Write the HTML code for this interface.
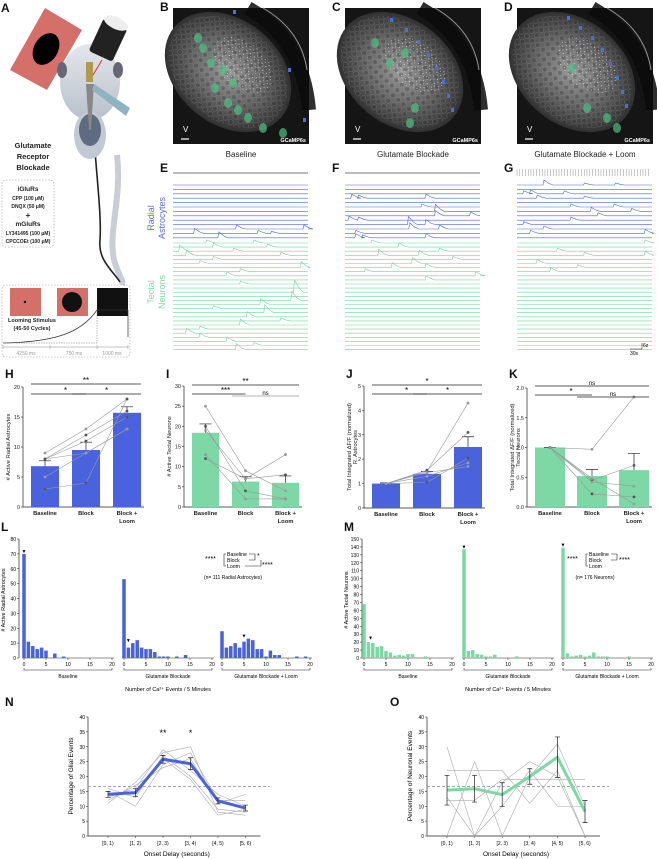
<!DOCTYPE html>
<html><head><meta charset="utf-8"><style>
html,body{margin:0;padding:0;background:#fff;}
svg{display:block;font-family:"Liberation Sans",sans-serif;}
.pl{font-weight:bold;font-size:12px;fill:#111}
.tk{font-size:5.5px;fill:#222}
.ax{font-size:5.8px;fill:#222}
</style></head><body>
<svg id="fig" width="657" height="859" viewBox="0 0 657 859">
<defs>
<radialGradient id="mic" cx="50%" cy="50%" r="55%"><stop offset="0" stop-color="#9a9a9a"/><stop offset="0.5" stop-color="#666"/><stop offset="1" stop-color="#252525"/></radialGradient>
<pattern id="cells" width="7" height="7" patternUnits="userSpaceOnUse"><circle cx="3.5" cy="3.5" r="2.6" fill="#333" stroke="#bbb" stroke-width="0.6"/></pattern>
<pattern id="speck" width="5" height="5" patternUnits="userSpaceOnUse"><rect x="1" y="1" width="1" height="1" fill="#eee"/><rect x="3" y="3" width="1" height="1" fill="#ccc"/></pattern>
<linearGradient id="fish" x1="0" y1="0" x2="0" y2="1"><stop offset="0" stop-color="#e4e7ec"/><stop offset="1" stop-color="#b9c0ca"/></linearGradient>
</defs>
<g>
<text class="pl" x="1" y="12">A</text>
<polygon points="10,70 45,8 82,30 47,90" fill="#d46f6a"/>
<ellipse cx="46" cy="49" rx="12" ry="17" transform="rotate(30 46 49)" fill="#000"/>
<path d="M117,155 C122,200 108,230 114,260 C118,275 124,280 122,285" stroke="#c9ced6" stroke-width="6" fill="none"/>
<path d="M92,100 C94,160 102,210 100,240 C98,260 112,270 120,282" stroke="#222" stroke-width="1.6" fill="none"/>
<ellipse cx="90" cy="82" rx="30" ry="38" fill="url(#fish)"/>
<ellipse cx="90" cy="135" rx="16" ry="24" fill="#c3c9d2"/>
<ellipse cx="90" cy="130" rx="11" ry="16" fill="#5e6b80"/>
<ellipse cx="62" cy="70" rx="5" ry="8" fill="#667"/>
<ellipse cx="118" cy="70" rx="5" ry="8" fill="#667"/>
<rect x="86" y="62" width="7" height="20" fill="#b09a50"/>
<polygon points="86,84 94,84 91,130 89,130" fill="#888"/>
<polygon points="94,84 130,108 126,116 92,90" fill="#8fb3c0"/>
<line x1="93" y1="75" x2="102" y2="60" stroke="#e03030" stroke-width="1"/>
<rect x="95" y="22" width="26" height="36" rx="3" transform="rotate(25 108 40)" fill="#222"/>
<ellipse cx="116" cy="23" rx="13" ry="6" transform="rotate(25 116 23)" fill="#eee"/>
<text x="33" y="148" text-anchor="middle" font-size="7.5" font-weight="bold" fill="#222">Glutamate</text>
<text x="33" y="159" text-anchor="middle" font-size="7.5" font-weight="bold" fill="#222">Receptor</text>
<text x="33" y="170" text-anchor="middle" font-size="7.5" font-weight="bold" fill="#222">Blockade</text>
<rect x="2" y="180" width="52" height="67" rx="4" fill="none" stroke="#999" stroke-dasharray="1.5,1.5" stroke-width="0.6"/>
<g font-size="5" text-anchor="middle" fill="#222" font-weight="bold">
<text x="28" y="191" font-size="6.5">iGluRs</text>
<text x="28" y="200">CPP (100 μM)</text>
<text x="28" y="208">DNQX (50 μM)</text>
<text x="28" y="218" font-size="8">+</text>
<text x="28" y="226" font-size="6.5">mGluRs</text>
<text x="28" y="235">LY341495 (100 μM)</text>
<text x="28" y="243">CPCCOEt (100 μM)</text>
</g>
<rect x="2" y="285" width="128" height="72" rx="4" fill="none" stroke="#999" stroke-dasharray="1.5,1.5" stroke-width="0.6"/>
<rect x="10" y="288" width="31" height="28" fill="#d46f6a"/><circle cx="25" cy="302" r="1.2" fill="#000"/>
<rect x="57" y="288" width="31" height="28" fill="#d46f6a"/><circle cx="72" cy="302" r="10" fill="#111"/>
<rect x="97" y="288" width="31" height="28" fill="#111"/>
<text x="32" y="322" text-anchor="middle" font-size="5.5" font-weight="bold" fill="#222">Looming Stimulus</text>
<text x="32" y="330" text-anchor="middle" font-size="5.5" font-weight="bold" fill="#222">(45-50 Cycles)</text>
<path d="M3,343 C50,342 80,335 97,310 L128,310 L128,337" stroke="#333" stroke-width="0.7" fill="none"/>
<path d="M97,310 L97,343 L3,343" stroke="#777" stroke-width="0.5" stroke-dasharray="1.5,1" fill="none"/>
<line x1="3" y1="347" x2="128" y2="347" stroke="#888" stroke-width="0.5"/>
<g stroke="#888" stroke-width="0.5"><line x1="3" y1="345" x2="3" y2="349"/><line x1="50" y1="345" x2="50" y2="349"/><line x1="97" y1="345" x2="97" y2="349"/><line x1="128" y1="345" x2="128" y2="349"/></g>
<g font-size="5" fill="#999" text-anchor="middle"><text x="26" y="355">4250 ms</text><text x="74" y="355">750 ms</text><text x="112" y="355">1000 ms</text></g>
</g>
<g id="imgs"></g>
<g id="traces"></g>
<g id="bars"></g>
<g id="hists"></g>
<g id="lines"></g>
</svg>
<script>
const NS="http://www.w3.org/2000/svg";
function mk(p,tag,at,txt){const e=document.createElementNS(NS,tag);for(const k in at)e.setAttribute(k,at[k]);if(txt!==undefined)e.textContent=txt;p.appendChild(e);return e;}

const barCats=["Baseline","Block","Block +"];
const hMeans=[6.8,9.5,15.7], hErr=[0.9,1.3,1.0];
const hInd=[[9,13,18],[8,12,16],[5,9,13],[3,4,18],[8,9,13],[8,11,15]];
const iMeans=[18.4,6.3,6.0], iErr=[2.2,1.2,1.7];
const iInd=[[25,9,4],[20,4,2],[13,2,2],[12,7,8],[19,7,13]];
const jMeans=[1,1.4,2.5], jErr=[0.03,0.1,0.42];
const jInd=[[1,1.5,4.3],[1,1.55,3.1],[1,1.3,1.85],[1,1.05,2.05],[1,1.45,1.7]];
const kMeans=[1,0.52,0.62], kErr=[0,0.11,0.28];
const kInd=[[1,0.97,1.85],[1,0.45,0.7],[1,0.42,0.35],[1,0.22,0.17],[1,0.48,0.05]];
const lBase=[70,11,8,6,7,5,0,3,0,1,0,0,0,0,0,0,0,0,0,0,0];
const lBlock=[53,7,10,12,7,6,6,4,1,1,1,0,1,0,2,0,0,0,0,0,0];
const lLoom=[18,7,8,10,7,11,13,12,6,6,1,5,2,2,0,0,0,1,0,1,0];
const mBase=[68,20,19,14,15,9,7,3,4,3,5,5,0,0,2,0,0,0,0,0,0];
const mBlock=[137,9,10,5,4,2,2,4,0,0,0,0,2,0,0,0,0,0,0,0,0];
const mLoom=[139,6,2,3,4,2,3,7,2,2,2,0,0,0,0,2,0,0,0,0,0];
const onsetCats=["[0, 1)","[1, 2)","[2, 3)","[3, 4)","[4, 5)","[5, 6)"];
const nMeans=[14,14.6,25.8,24.3,11.8,9.4], nErr=[1,1.3,1.3,2,1,1];
const nInd=[[11,18,28,30,8,7],[15,10,24,28,12,12],[16,13,27,20,9,8],[13,16,29,22,14,10],[12,17,23,26,11,14],[14,14,26,19,7,9]];
const oMeans=[15.4,15.9,13.9,20,26.5,8.2], oErr=[5,4.5,4,2.6,6.8,3.7];
const oInd=[[30,0,18,25,20,0],[0,25,0,20,31,10],[22,22,22,11,22,0],[12,12,19,19,19,19],[13,0,10,22,10,10]];
const eAstro=[[10,0.47,4],[10,0.97,4],[11,0.16,5],[11,0.63,3],[11,0.73,2],[12,0.34,6],[13,0.1,3]];
const fAstro=[[3,0.05,4],[3,0.1,3],[3,0.6,4],[5,0.57,3],[6,0.67,7],[7,0.67,5],[7,0.93,4],[8,0.03,4],[8,0.1,3],[9,0.47,8],[9,0.6,5],[10,0.48,6],[10,0.7,4],[11,0.08,3],[12,0.08,4],[12,0.13,3],[12,0.6,4]];
const gAstro=[[0,0.2,5],[0,0.5,2],[0,0.73,2],[2,0.05,3],[2,0.1,4],[2,0.35,3],[3,0.15,3],[3,0.5,2],[5,0.4,3],[5,0.72,3],[6,0.55,4],[6,0.85,3],[7,0.6,3],[8,0.4,3],[9,0.05,3],[10,0.2,3],[11,0.1,3],[11,0.95,4]];
const eNeur=[[0,0.25,3],[0,0.6,3],[1,0.3,4],[1,0.7,3],[2,0.05,6],[2,0.45,3],[3,0.1,5],[3,0.8,3],[4,0.3,3],[5,0.2,3],[6,0.95,6],[7,0.5,3],[8,0.4,4],[10,0.5,3],[12,0.9,12],[14,0.88,9],[15,0.65,6],[16,0.3,3],[17,0.68,8],[18,0.55,5],[19,0.8,3],[20,0.5,6],[21,0.2,3],[22,0.1,5],[23,0.2,4],[24,0.4,4],[25,0.6,3],[26,0.47,6]];
const fNeur=[[0,0.2,3],[1,0.4,4],[2,0.7,3],[3,0.25,6],[3,0.55,5],[4,0.8,3],[5,0.5,6],[6,0.35,5],[6,0.6,4],[7,0.15,3],[8,0.97,4],[9,0.6,4]];
const gNeur=[[0,0.95,3],[2,0.3,3],[3,0.5,3],[3,0.95,4],[5,0.15,4],[6,0.45,3],[7,0.25,4]];
const trCols=[173,345,517], trW=135;

const imgG=document.getElementById('imgs');
const pl=["B","C","D"];const titles=["Baseline","Glutamate Blockade","Glutamate Blockade + Loom"];
const greens=[[[30,40],[38,55],[50,62],[42,80],[60,75],[75,110],[90,120],[110,125],[25,30],[55,95],[65,102]],[[45,55],[60,45],[70,100],[65,115],[30,35]],[[55,60],[70,100],[90,110],[100,120]]];
const blues=[[[60,2],[115,60],[130,110]],[[45,10],[60,20],[72,32],[82,45],[90,58],[97,72],[102,86],[106,100]],[[50,8],[62,18],[74,28],[84,40],[92,54],[99,68],[104,82],[108,96]]];
trCols.forEach((x0,i)=>{
 const g=mk(imgG,'g',{});
 
 
 mk(g,'text',{class:'pl',x:x0-13,y:11},pl[i]);
 mk(g,'rect',{x:x0,y:8,width:136,height:136,fill:'#151515'});
 mk(g,'ellipse',{cx:x0+55,cy:72,rx:70,ry:52,transform:`rotate(40 ${x0+55} 72)`,fill:'url(#mic)'});
 mk(g,'ellipse',{cx:x0+55,cy:72,rx:66,ry:48,transform:`rotate(40 ${x0+55} 72)`,fill:'url(#cells)',opacity:0.3});
 mk(g,'ellipse',{cx:x0+70,cy:65,rx:35,ry:22,transform:`rotate(40 ${x0+70} 65)`,fill:'url(#speck)',opacity:0.7});
 mk(g,'path',{d:`M${x0+75},8 Q${x0+130},40 ${x0+136},110`,stroke:'#0a0a0a',"stroke-width":14,fill:'none',opacity:0.85});
 mk(g,'path',{d:`M${x0+90},8 Q${x0+128},30 ${x0+134},70`,stroke:'#999',"stroke-width":1,fill:'none'});
 greens[i].forEach(p=>mk(g,'ellipse',{cx:x0+p[0],cy:8+p[1],rx:4,ry:5,fill:'#4fbf86',opacity:0.7}));
 blues[i].forEach(p=>mk(g,'rect',{x:x0+p[0],y:8+p[1],width:3,height:4,fill:'#4a6ee0'}));
 mk(g,'text',{x:x0+10,y:132,"font-size":8,fill:'#fff'},'V');
 mk(g,'line',{x1:x0+8,x2:x0+16,y1:139,y2:139,stroke:'#fff',"stroke-width":1.2});
 mk(g,'text',{x:x0+133,y:142,"font-size":5.5,fill:'#fff',"text-anchor":'end',"font-weight":'bold'},'GCaMP6s');
 mk(g,'text',{x:x0+68,y:157,"font-size":8,fill:'#222',"text-anchor":'middle'},titles[i]);
});

const trG=document.getElementById('traces');
const ev=[[eAstro,eNeur],[fAstro,fNeur],[gAstro,gNeur]];
const tl=["E","F","G"];
function trace(g,x0,y,evs,idx,col){
 let d=`M${x0},${y}`;const mine=evs.filter(e=>e[0]===idx).sort((a,b)=>a[1]-b[1]);
 mine.forEach(e=>{const xs=x0+e[1]*trW;d+=` L${xs-1},${y} L${xs},${y-e[2]} L${xs+5},${y-e[2]*0.3} L${xs+9},${y}`;});
 d+=` L${x0+trW},${y}`;
 const p=mk(g,'path',{d:d,stroke:col,"stroke-width":0.6,fill:'none'});
 
 
}
trCols.forEach((x0,i)=>{
 const g=mk(trG,'g',{});
 
 
 mk(g,'text',{class:'pl',x:x0-13,y:172},tl[i]);
 if(i<2) mk(g,'line',{x1:x0,x2:x0+trW,y1:173,y2:173,stroke:'#bbb',"stroke-width":2});
 else for(let k=0;k<48;k++) mk(g,'line',{x1:x0+k*2.8,x2:x0+k*2.8,y1:169,y2:176,stroke:'#777',"stroke-width":0.4});
 for(let k=0;k<13;k++) trace(g,x0,185+k*4.4,ev[i][0],k,'#4a63dc');
 for(let k=0;k<27;k++) trace(g,x0,243+k*4.1,ev[i][1],k,'#6fd69c');
});
mk(trG,'text',{x:0,y:0,transform:'translate(154,218) rotate(-90)',"font-size":9,fill:'#5a72e0',"text-anchor":'middle'},'Radial');
mk(trG,'text',{x:0,y:0,transform:'translate(165,218) rotate(-90)',"font-size":9,fill:'#5a72e0',"text-anchor":'middle'},'Astrocytes');
mk(trG,'text',{x:0,y:0,transform:'translate(154,292) rotate(-90)',"font-size":9,fill:'#7fdba8',"text-anchor":'middle'},'Tectal');
mk(trG,'text',{x:0,y:0,transform:'translate(165,292) rotate(-90)',"font-size":9,fill:'#7fdba8',"text-anchor":'middle'},'Neurons');
mk(trG,'path',{d:'M630,349 L642,349 L642,343',stroke:'#333',"stroke-width":0.6,fill:'none'});
mk(trG,'text',{x:643,y:347,"font-size":5},'6z');
mk(trG,'text',{x:630,y:355,"font-size":5},'30s');

const barG=document.getElementById('bars');
function barChart(o){
 const g=mk(barG,'g',{});
 
 
 mk(g,'text',{class:'pl',x:o.ax-18,y:378},o.label);
 const y=v=>o.y0-(v/o.max)*(o.y0-o.yTop);
 const cx=k=>o.ax+8+o.bw/2+k*(o.bw+o.gap);
 mk(g,'line',{x1:o.ax,x2:o.ax,y1:o.yTop,y2:o.y0,stroke:'#222',"stroke-width":0.7});
 mk(g,'line',{x1:o.ax,x2:cx(2)+o.bw/2+3,y1:o.y0,y2:o.y0,stroke:'#222',"stroke-width":0.7});
 o.ticks.forEach(t=>{mk(g,'line',{x1:o.ax-2,x2:o.ax,y1:y(t),y2:y(t),stroke:'#222',"stroke-width":0.6});mk(g,'text',{class:'tk',x:o.ax-3,y:y(t)+2,"text-anchor":'end'},o.fmt?t.toFixed(o.fmt):t);});
 o.means.forEach((m,k)=>{
  const r=mk(g,'rect',{x:cx(k)-o.bw/2,y:y(m),width:o.bw,height:o.y0-y(m),fill:o.col});
  
  
  mk(g,'path',{d:`M${cx(k)},${y(m)} L${cx(k)},${y(m+o.err[k])} M${cx(k)-6},${y(m+o.err[k])} L${cx(k)+6},${y(m+o.err[k])}`,stroke:'#222',"stroke-width":0.7,fill:'none'});
  mk(g,'text',{class:'ax',x:cx(k),y:o.y0+8,"text-anchor":'middle',"font-weight":'bold'},barCats[k]);
 });
 mk(g,'text',{class:'ax',x:cx(2),y:o.y0+16,"text-anchor":'middle',"font-weight":'bold'},'Loom');
 o.ind.forEach((s,j)=>{
  const c=j%2?'#555':'#999';
  mk(g,'polyline',{points:s.map((v,k)=>cx(k)+','+y(v)).join(' '),stroke:'#999',"stroke-width":0.6,fill:'none'});
  s.forEach((v,k)=>mk(g,'circle',{cx:cx(k),cy:y(v),r:1.4,fill:c}));
 });
 o.sig.forEach(s=>{const ya=s[2];mk(g,'line',{x1:cx(s[0])-o.bw/2,x2:cx(s[1])+(s[1]==2?o.bw/2:0),y1:ya,y2:ya,stroke:s[4]||'#222',"stroke-width":0.8});mk(g,'text',{x:(cx(s[0])+cx(s[1]))/2,y:ya-1,"font-size":s[3]=='ns'?6:8,"text-anchor":'middle'},s[3]);});
 mk(g,'text',{x:0,y:0,transform:`translate(${o.ax-13},${(o.y0+o.yTop)/2}) rotate(-90)`,class:'ax',"text-anchor":'middle'},o.yl);
 if(o.yl2) mk(g,'text',{x:0,y:0,transform:`translate(${o.ax-7},${(o.y0+o.yTop)/2}) rotate(-90)`,class:'ax',"text-anchor":'middle'},o.yl2);
}
barChart({name:'chart-h-astrocytes',label:'H',ax:23,y0:507,yTop:387,max:20,ticks:[0,5,10,15,20],bw:28,gap:13,col:'#4a63dc',means:hMeans,err:hErr,ind:hInd,yl:'# Active Radial Astrocytes',sig:[[0,2,384,'**'],[0,1,394,'*'],[1,2,394,'*']]});
barChart({name:'chart-i-neurons',label:'I',ax:184,y0:507,yTop:386,max:30,ticks:[0,5,10,15,20,25,30],bw:27,gap:13,col:'#7ed8a5',means:iMeans,err:iErr,ind:iInd,yl:'# Active Tectal Neurons',sig:[[0,2,385,'**'],[0,1,394,'***'],[1,2,396,'ns','#999']]});
barChart({name:'chart-j-astro-integrated',label:'J',ax:364,y0:508,yTop:386,max:5,ticks:[0,1,2,3,4,5],bw:28,gap:13,col:'#4a63dc',means:jMeans,err:jErr,ind:jInd,yl:'Total Integrated ΔF/F (normalized)',yl2:'R. Astrocytes',sig:[[0,2,385,'*'],[0,1,394,'*'],[1,2,394,'*']]});
barChart({name:'chart-k-neuron-integrated',label:'K',ax:527,y0:507,yTop:388,max:2,ticks:[0,0.5,1,1.5,2],fmt:1,bw:30,gap:12,col:'#7ed8a5',means:kMeans,err:kErr,ind:kInd,yl:'Total Integrated ΔF/F (normalized)',yl2:'Tectal Neurons',sig:[[0,2,386,'ns'],[0,1,395,'*'],[1,2,397,'ns']]});

const hG=document.getElementById('hists');
function hist(o){
 const g=mk(hG,'g',{});
 
 
 mk(g,'text',{class:'pl',x:o.ax-18,y:531},o.label);
 const y=v=>658-(v/o.max)*(658-539);
 mk(g,'line',{x1:o.ax,x2:o.ax,y1:539,y2:658,stroke:'#222',"stroke-width":0.7});
 for(let t=0;t<=o.max;t+=10){mk(g,'line',{x1:o.ax-2,x2:o.ax,y1:y(t),y2:y(t),stroke:'#222',"stroke-width":0.5});mk(g,'text',{x:o.ax-3,y:y(t)+2,"font-size":5,"text-anchor":'end'},t);}
 const names=['Baseline','Glutamate Blockade','Glutamate Blockade + Loom'];
 o.groups.forEach((arr,gi)=>{
  const x0=o.gx[gi],sc=88/20;
  mk(g,'line',{x1:x0-2,x2:x0+90,y1:658,y2:658,stroke:'#222',"stroke-width":0.6});
  arr.forEach((v,k)=>{if(v>0){const r=mk(g,'rect',{x:x0+k*sc-sc*0.4,y:y(v),width:sc*0.8,height:658-y(v),fill:o.col});}});
  [0,5,10,15,20].forEach(t=>{mk(g,'line',{x1:x0+t*sc,x2:x0+t*sc,y1:658,y2:660,stroke:'#222',"stroke-width":0.5});mk(g,'text',{x:x0+t*sc,y:666,"font-size":5,"text-anchor":'middle'},t);});
  mk(g,'path',{d:`M${x0},668 L${x0},670 L${x0+88},670 L${x0+88},668`,stroke:'#222',"stroke-width":0.6,fill:'none'});
  mk(g,'text',{x:x0+44,y:678,"font-size":5,"text-anchor":'middle'},names[gi]);
  const mi=o.marks[gi];mk(g,'text',{x:x0+mi[0]*sc,y:y(mi[1])-1,"font-size":5,"text-anchor":'middle'},'▼');
 });
 mk(g,'text',{x:o.gx[1]+44,y:691,"font-size":5.5,"text-anchor":'middle'},'Number of Ca²⁺ Events / 5 Minutes');
 mk(g,'text',{x:0,y:0,transform:`translate(${o.ax-14},600) rotate(-90)`,"font-size":5.5,"text-anchor":'middle'},o.yl);
 const sx=o.sx;
 mk(g,'text',{x:sx,y:561,"font-size":7},'****');
 mk(g,'path',{d:`M${sx+21},554 L${sx+19},554 L${sx+19},566 L${sx+21},566`,stroke:'#222',"stroke-width":0.6,fill:'none'});
 mk(g,'text',{x:sx+22,y:556,"font-size":5.2},'Baseline');mk(g,'text',{x:sx+22,y:562,"font-size":5.2},'Block');mk(g,'text',{x:sx+22,y:568,"font-size":5.2},'Loom');
 mk(g,'text',{x:sx+52,y:o.bs?558:562,"font-size":7},o.bs?'*':'****');
 mk(g,'path',{d:`M${sx+44},554 L${sx+50},554 L${sx+50},560 L${sx+44},560`,stroke:'#222',"stroke-width":0.6,fill:'none'});
 if(o.bs){mk(g,'path',{d:`M${sx+40},566 L${sx+56},566 L${sx+56},560`,stroke:'#222',"stroke-width":0.6,fill:'none'});mk(g,'text',{x:sx+57,y:567,"font-size":7},'****');}
 mk(g,'text',{x:sx+28,y:579,"font-size":5,"text-anchor":'middle'},o.n);
}
hist({name:'chart-l-astro-hist',label:'L',ax:19,max:80,col:'#4a63dc',groups:[lBase,lBlock,lLoom],gx:[24,124,222],marks:[[0,70],[1,10],[5,13]],yl:'# Active Radial Astrocytes',sx:205,bs:true,n:'(n= 111 Radial Astrocytes)'});
hist({name:'chart-m-neuron-hist',label:'M',ax:362,max:150,col:'#7ed8a5',groups:[mBase,mBlock,mLoom],gx:[364,464,563],marks:[[1.5,22],[0,137],[0,139]],yl:'# Active Tectal Neurons',sx:567,bs:false,n:'(n= 176 Neurons)'});

const lG=document.getElementById('lines');
function lineChart(o){
 const g=mk(lG,'g',{});
 
 
 mk(g,'text',{class:'pl',x:o.lx,y:706},o.label);
 const y=v=>836-(v/40)*(836-717);
 const x=k=>o.ax+20+k*o.step;
 mk(g,'line',{x1:o.ax,x2:o.ax,y1:717,y2:836,stroke:'#222',"stroke-width":0.7});
 mk(g,'line',{x1:o.ax,x2:x(5)+15,y1:836,y2:836,stroke:'#222',"stroke-width":0.7});
 for(let t=0;t<=40;t+=5){mk(g,'line',{x1:o.ax-2,x2:o.ax,y1:y(t),y2:y(t),stroke:'#222',"stroke-width":0.5});mk(g,'text',{x:o.ax-3,y:y(t)+2,"font-size":5,"text-anchor":'end'},t);}
 onsetCats.forEach((c,k)=>{mk(g,'line',{x1:x(k),x2:x(k),y1:836,y2:838,stroke:'#222',"stroke-width":0.5});mk(g,'text',{x:x(k),y:845,"font-size":5,"text-anchor":'middle'},c);});
 mk(g,'text',{x:(x(0)+x(5))/2,y:856,"font-size":6.5,"text-anchor":'middle'},'Onset Delay (seconds)');
 mk(g,'text',{x:0,y:0,transform:`translate(${o.ax-15},776) rotate(-90)`,"font-size":6.5,"text-anchor":'middle'},o.yl);
 mk(g,'line',{x1:o.ax,x2:x(5)+24,y1:y(16.67),y2:y(16.67),stroke:'#888',"stroke-width":0.7,"stroke-dasharray":'3,2'});
 o.ind.forEach(s=>{
  const p=mk(g,'polyline',{points:s.map((v,k)=>x(k)+','+y(v)).join(' '),stroke:'#aaa',"stroke-width":0.6,fill:'none'});
  
  
 });
 const m=mk(g,'polyline',{points:o.means.map((v,k)=>x(k)+','+y(v)).join(' '),stroke:o.col,"stroke-width":3,fill:'none',"stroke-linejoin":'round'});
 
 
 o.means.forEach((v,k)=>mk(g,'path',{d:`M${x(k)},${y(v-o.err[k])} L${x(k)},${y(v+o.err[k])} M${x(k)-2.5},${y(v-o.err[k])} L${x(k)+2.5},${y(v-o.err[k])} M${x(k)-2.5},${y(v+o.err[k])} L${x(k)+2.5},${y(v+o.err[k])}`,stroke:'#222',"stroke-width":0.7,fill:'none'}));
 (o.stars||[]).forEach(s=>mk(g,'text',{x:x(s[0]),y:736,"font-size":9,"text-anchor":'middle'},s[1]));
}
lineChart({name:'chart-n-glial-onset',label:'N',lx:5,ax:88,step:27.5,col:'#4a63dc',means:nMeans,err:nErr,ind:nInd,yl:'Percentage of Glial Events',stars:[[2,'**'],[3,'*']]});
lineChart({name:'chart-o-neuronal-onset',label:'O',lx:390,ax:427,step:27.6,col:'#7ed8a5',means:oMeans,err:oErr,ind:oInd,yl:'Percentage of Neuronal Events'});
</script>
</body></html>
